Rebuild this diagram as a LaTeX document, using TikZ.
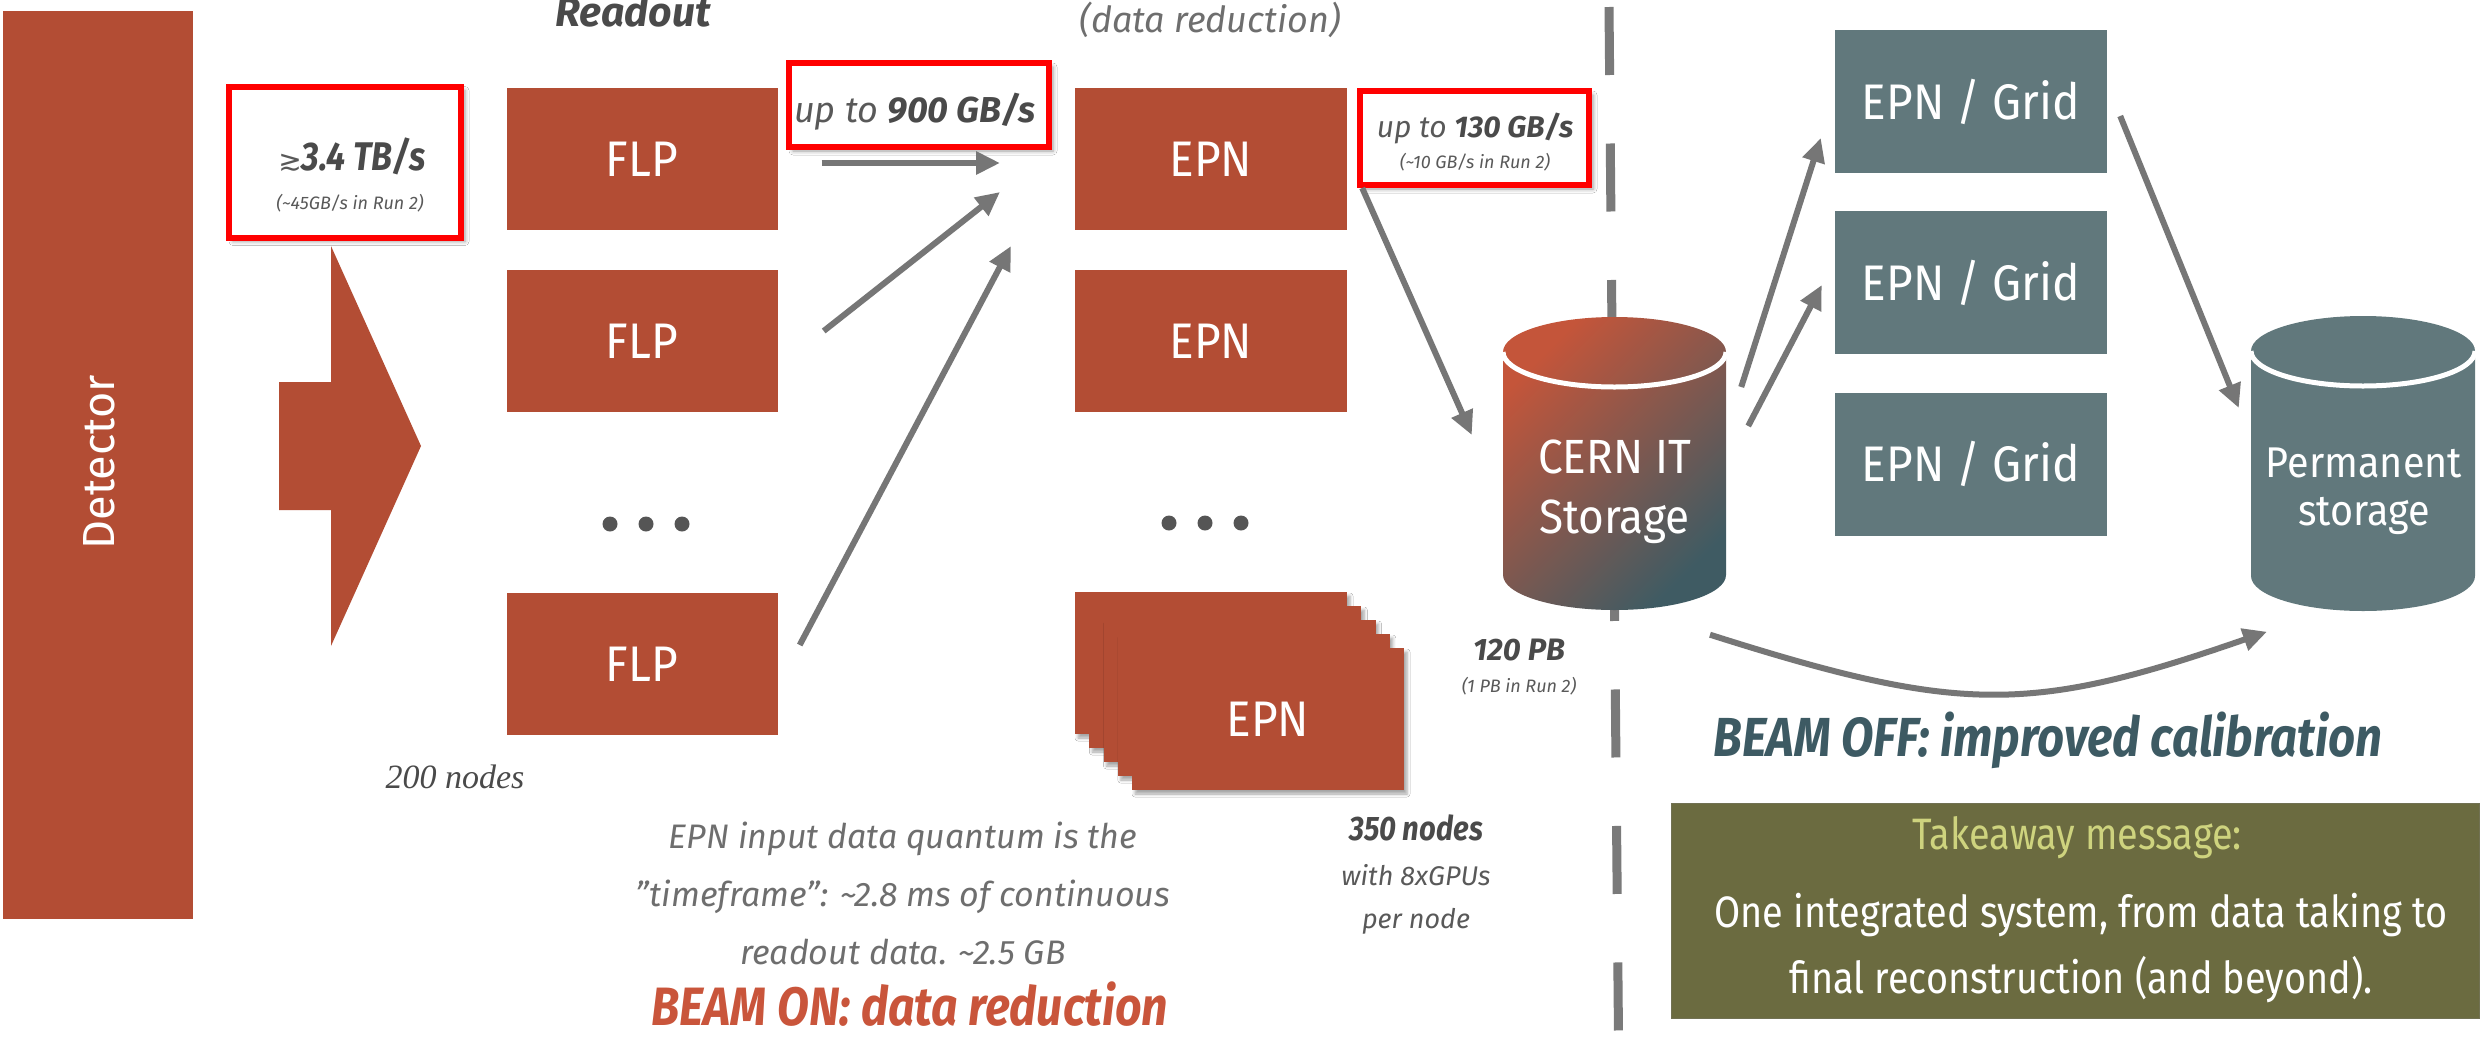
\documentclass[tikz,border=0pt]{standalone}
\usepackage{fontspec}
\setmainfont{Fira Sans}
\newfontfamily\djv{DejaVu Sans}
\newfontfamily\condf[FakeStretch=0.86]{Fira Sans}
\newfontfamily\boxf[FakeStretch=0.92]{Fira Sans}
\newfontfamily\serf{Liberation Serif}
\usetikzlibrary{arrows.meta,shadows.blur,calc}
\definecolor{rust}{HTML}{B34D34}
\definecolor{slate}{HTML}{61787C}
\definecolor{arrowgray}{HTML}{767676}
\definecolor{txtgray}{HTML}{595959}
\definecolor{darkgray2}{HTML}{4A4A4A}
\definecolor{lightgray2}{HTML}{6E6E6E}
\definecolor{dotgray}{HTML}{555555}
\definecolor{beamon}{HTML}{C9553B}
\definecolor{beamoff}{HTML}{3D5A63}
\definecolor{olive}{HTML}{6B6B40}
\definecolor{takeaway}{HTML}{CED37E}
\definecolor{cylA}{HTML}{C4553A}
\definecolor{cylB}{HTML}{3F5B63}
\definecolor{dashgray}{HTML}{7A7A7A}
\newcommand\fsz[1]{\fontsize{#1}{#1}\selectfont}
\newcommand\drawcyl[6]{%
  \path[#6] (#1-#4,#2) -- (#1-#4,#3) arc[start angle=180,end angle=360,x radius=#4pt,y radius=#5pt]
     -- (#1+#4,#2) arc[start angle=0,end angle=180,x radius=#4pt,y radius=#5pt] -- cycle;
  \draw[white,line width=5pt] (#1-#4,#2) arc[start angle=180,end angle=360,x radius=#4pt,y radius=#5pt];
}
\tikzset{
  flpbox/.style={fill=rust, text=white, minimum width=271pt, minimum height=142pt, inner sep=0pt, font=\boxf\fsz{50}},
  gridbox/.style={fill=slate, text=white, minimum width=272pt, minimum height=143pt, inner sep=0pt, font=\boxf\fsz{50}},
  redbox/.style={draw=red, line width=6pt, fill=white, inner sep=0pt,
     blur shadow={shadow xshift=4pt, shadow yshift=-4pt, shadow blur radius=4pt, shadow opacity=40}},
  stackshadow/.style={blur shadow={shadow xshift=3pt, shadow yshift=-4pt, shadow blur radius=3pt, shadow opacity=35}},
  flow/.style={draw=arrowgray, line width=6pt, -{Triangle[length=24pt,width=22pt]}},
  elldot/.style={circle, fill=dotgray, minimum size=15pt, inner sep=0pt},
  lbl/.style={text=txtgray, inner sep=0pt, anchor=base},
  cylnode/.style={inner sep=0pt, minimum width=223pt, minimum height=294pt},
}
\begin{document}
\begin{tikzpicture}[x=1pt,y=-1pt]
\path[use as bounding box] (0,0) rectangle (2484,1037);
\clip (0,0) rectangle (2484,1037);
\fill[white] (0,0) rectangle (2484,1037);

% Detector and big arrow
\node[fill=rust, minimum width=190pt, minimum height=908pt, inner sep=0pt] (det) at (98,465) {};
\node[text=white, rotate=90, font=\fsz{45}, inner sep=0pt] (detlbl) at (99,462) {Detector};
\fill[rust] (279,382) -- (331,382) -- (331,246) -- (421,446) -- (331,646) -- (331,510) -- (279,510) -- cycle;

% headings
\node[lbl, text=darkgray2, font=\fsz{41}\bfseries\itshape] (hread) at (633,26) {Readout};
\node[lbl, text=lightgray2, font=\fsz{36}\itshape] (hred) at (1210,32) {(data reduction)};

% red boxes
\node[redbox, minimum width=232pt, minimum height=151pt] (rb1) at (345,162) {};
\node[lbl, text=darkgray2] (t1a) at (352,170) {{\djv\fsz{28}\color{txtgray}≳}{\condf\fsz{40}\bfseries\itshape 3.4 TB/s}};
\node[lbl, font=\fsz{18}\itshape] (t1b) at (350,209) {(\textasciitilde45GB/s in Run 2)};

\node[redbox, minimum width=260pt, minimum height=84pt] (rb2) at (919,105) {};
\node[lbl, font=\fsz{36}\itshape] (t2) at (915,122) {up to {\bfseries\color{darkgray2}900 GB/s}};

\node[redbox, minimum width=229pt, minimum height=94pt] (rb3) at (1474.5,138) {};
\node[lbl, font=\fsz{30}\itshape] (t3a) at (1475,137) {up to {\bfseries\color{darkgray2}130 GB/s}};
\node[lbl, font=\fsz{18}\itshape] (t3b) at (1475,168) {(\textasciitilde10 GB/s in Run 2)};

% FLP column
\node[flpbox] (flp1) at (642,159) {FLP};
\node[flpbox] (flp2) at (642,341) {FLP};
\node[elldot] (fd1) at (610,524) {};
\node[elldot] (fd2) at (646,524) {};
\node[elldot] (fd3) at (682,524) {};
\node[flpbox] (flp3) at (642,664) {FLP};
\node[lbl, text=darkgray2, font=\serf\fsz{34}\itshape] (n200) at (455,788) {200 nodes};

% EPN column
\node[flpbox, minimum width=272pt] (epn1) at (1211,159) {EPN};
\node[flpbox, minimum width=272pt] (epn2) at (1211,341) {EPN};
\node[elldot] (ed1) at (1169,523) {};
\node[elldot] (ed2) at (1205,523) {};
\node[elldot] (ed3) at (1241,523) {};
\foreach \i in {0,...,3}
  \node[flpbox, stackshadow, minimum width=272pt] (stack\i) at (1211+14.25*\i,663+14*\i) {};
\node[flpbox, stackshadow, minimum width=272pt] (stack4) at (1268,719) {EPN};

% arrows FLP -> EPN
\coordinate (c1) at (1000,163);
\coordinate (c2) at (1000,192);
\coordinate (c3) at (1011,246);
\draw[flow] ($(flp1.east)+(44,4)$) -- (c1);
\draw[flow] ($(flp2.east)+(46,-10)$) -- (c2);
\draw[flow] ($(flp3.east)+(22,-19)$) -- (c3);

% dashed separator
\draw[dashgray, line width=9pt, dash pattern=on 68pt off 68.5pt] (1609,7) -- (1618.5,1037);

% CERN IT storage
\drawcyl{1614.5}{352}{575}{111.5}{35}{top color=cylA, bottom color=cylB, shading angle=45}
\node[cylnode] (cern) at (1614.5,464) {};
\node[lbl, text=white, font=\boxf\fsz{48}] (cern1) at (1614.5,473) {CERN IT};
\node[lbl, text=white, font=\boxf\fsz{48}] (cern2) at (1614.5,533) {Storage};
\node[lbl, text=darkgray2, font=\fsz{31}\bfseries\itshape] (pb120) at (1519,660) {120 PB};
\node[lbl, font=\fsz{18}\itshape] (pb1) at (1519,692) {(1 PB in Run 2)};

% 350 nodes
\node[lbl, text=darkgray2, font=\condf\fsz{34}\bfseries\itshape] (n350) at (1416,840) {350 nodes};
\node[lbl, font=\fsz{27}\itshape] (gpu1) at (1416,885) {with 8xGPUs};
\node[lbl, font=\fsz{27}\itshape] (gpu2) at (1416,928) {per node};

% EPN input text
\node[lbl, text=lightgray2, font=\fsz{34}\itshape] (q1) at (903,848) {EPN input data quantum is the};
\node[lbl, text=lightgray2, font=\fsz{34}\itshape] (q2) at (903,906) {\char34 timeframe\char34: \textasciitilde2.8 ms of continuous};
\node[lbl, text=lightgray2, font=\fsz{34}\itshape] (q3) at (903,964) {readout data. \textasciitilde2.5 GB};
\node[lbl, text=beamon, font=\condf\fsz{54}\bfseries\itshape] (bon) at (910,1025) {BEAM ON: data reduction};

% Grid column
\node[gridbox] (grid1) at (1971,101.5) {EPN / Grid};
\node[gridbox] (grid2) at (1971,282.5) {EPN / Grid};
\node[gridbox] (grid3) at (1971,464) {EPN / Grid};

% Permanent storage
\drawcyl{2363}{351}{576}{112}{35}{fill=slate}
\node[cylnode, minimum width=224pt] (perm) at (2363,463.5) {};
\node[lbl, text=white, font=\boxf\fsz{43}] (perm1) at (2364,477) {Permanent};
\node[lbl, text=white, font=\boxf\fsz{43}] (perm2) at (2364,525) {storage};

% arrows right part
\draw[flow] ($(epn1.east)+(15,29)$) -- ($(cern.west)+(-31,-29)$);
\draw[flow] ($(cern.east)+(15,-77)$) -- ($(grid1.west)+(-14,36.5)$);
\draw[flow] ($(cern.east)+(22,-38)$) -- ($(grid2.west)+(-13,2.5)$);
\draw[flow] ($(grid1.east)+(13,14.5)$) -- ($(perm.west)+(-12,-55.5)$);
\draw[flow] ($(cern.south)+(95.5,23.5)$) .. controls (1960,714) and (2030,714) .. ($(perm.south)+(-96,21)$);

\node[lbl, text=beamoff, font=\condf\fsz{55}\bfseries\itshape] (boff) at (2048,756) {BEAM OFF: improved calibration};

% takeaway
\node[fill=olive, draw=olive!70!gray, line width=1pt, minimum width=808pt, minimum height=215pt, inner sep=0pt] (take) at (2075,910.5) {};
\node[lbl, text=takeaway, font=\condf\fsz{44}] (tk1) at (2077,849) {Takeaway message:};
\node[lbl, text=white, font=\condf\fsz{44}] (tk2) at (2081,927) {One integrated system, from data taking to};
\node[lbl, text=white, font=\condf\fsz{44}] (tk3) at (2081,993) {final reconstruction (and beyond).};
\end{tikzpicture}
\end{document}
